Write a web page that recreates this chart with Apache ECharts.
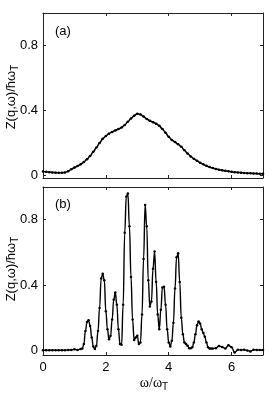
<!DOCTYPE html>
<html><head><meta charset="utf-8">
<script src="https://cdn.jsdelivr.net/npm/echarts@6/dist/echarts.min.js"></script>
<style>html,body{margin:0;padding:0;background:#fff}#c{width:272px;height:397px}</style>
</head><body><div id="c"></div>
<script>
const omegaA = [0.0,0.1,0.2,0.3,0.4,0.5,0.6,0.7,0.8,0.9,1.0,1.1,1.2,1.3,1.4,1.5,1.6,1.7,1.8,1.9,2.0,2.1,2.2,2.3,2.4,2.5,2.6,2.7,2.8,2.9,3.0,3.1,3.2,3.3,3.4,3.5,3.6,3.7,3.8,3.9,4.0,4.1,4.2,4.3,4.4,4.5,4.6,4.7,4.8,4.9,5.0,5.1,5.2,5.3,5.4,5.5,5.6,5.7,5.8,5.9,6.0,6.1,6.2,6.3,6.4,6.5,6.6,6.7,6.8,6.9,7.0];
const zA = [0.024,0.022,0.020,0.018,0.017,0.016,0.016,0.018,0.026,0.038,0.048,0.058,0.068,0.082,0.100,0.120,0.145,0.172,0.200,0.225,0.243,0.257,0.268,0.277,0.285,0.295,0.310,0.330,0.350,0.368,0.380,0.375,0.362,0.348,0.336,0.328,0.318,0.305,0.285,0.262,0.238,0.218,0.205,0.192,0.176,0.155,0.135,0.117,0.102,0.090,0.078,0.068,0.059,0.051,0.045,0.040,0.035,0.031,0.028,0.025,0.022,0.020,0.018,0.017,0.015,0.014,0.013,0.012,0.011,0.010,0.010];
const omegaB = [0.0,0.1,0.2,0.3,0.4,0.5,0.6,0.7,0.8,0.9,1.0,1.1,
 1.20,1.25,1.30,1.35,1.40,1.45,1.50,1.55,1.60,1.65,1.70,1.75,1.80,1.85,1.90,1.95,2.00,2.05,2.10,2.15,2.20,2.25,2.30,2.35,2.40,2.45,2.50,2.55,2.60,2.65,2.70,2.75,2.80,2.85,2.90,2.95,3.00,3.05,3.10,3.15,3.20,3.25,3.30,3.35,3.40,3.45,3.50,3.55,3.60,3.65,3.70,3.75,3.80,3.85,3.90,3.95,4.00,4.05,4.10,4.15,4.20,4.25,4.30,4.35,4.40,4.45,4.50,4.55,4.60,4.65,4.70,4.75,4.80,4.85,4.90,4.95,5.00,5.05,5.10,5.15,5.20,5.25,5.30,5.35,5.40,
 5.5,5.6,5.7,5.8,5.9,6.0,6.1,6.2,6.3,6.4,6.5,6.6,6.7,6.8,6.9,7.0];
const zB = [0.002,0.002,0.002,0.002,0.002,0.002,0.002,0.002,0.003,0.004,0.008,0.003,
 0.010,0.012,0.040,0.120,0.175,0.185,0.150,0.080,0.025,0.010,0.030,0.120,0.260,0.440,0.470,0.430,0.240,0.130,0.070,0.090,0.190,0.310,0.355,0.280,0.130,0.040,0.035,0.280,0.720,0.940,0.960,0.760,0.450,0.190,0.065,0.080,0.090,0.040,0.050,0.220,0.560,0.890,0.760,0.430,0.270,0.300,0.500,0.605,0.420,0.220,0.130,0.250,0.385,0.390,0.280,0.130,0.050,0.025,0.060,0.170,0.380,0.570,0.595,0.420,0.200,0.100,0.050,0.040,0.030,0.015,0.015,0.020,0.050,0.100,0.155,0.178,0.165,0.130,0.108,0.085,0.050,0.020,0.012,0.012,0.012,
 0.015,0.028,0.022,0.012,0.033,0.020,-0.012,0.005,0.003,0.005,0.000,-0.005,0.005,0.004,0.003,0.004];
const xTicks = [0,2,4,6];
const yTicks = [0,0.4,0.8];
const panelLabels = ['(a)','(b)'];
const yTitle = 'Z(q,ω)/ħω{s|T}';
const xTitle = 'ω/ω{s|T}';

const grids = [
  {left:43, right:9, top:13, height:165, containLabel:false, outerBoundsMode:'none'},
  {left:43, right:9, top:187, height:168, containLabel:false, outerBoundsMode:'none'}
];
const yMins = [-0.016, -0.027];
const frame = '#222';
const font = 'Liberation Sans, Arial, sans-serif';
const serif = 'Liberation Serif, Times New Roman, serif';

const xAxis = [], yAxis = [];
for (let g = 0; g < 2; g++) {
  xAxis.push({
    type:'value', gridIndex:g, min:0, max:7, position:'bottom',
    axisLine:{show:true, onZero:false, lineStyle:{color:frame, width:1}},
    axisTick:{show:true, inside:true, length:3, customValues:xTicks, lineStyle:{color:frame}},
    axisLabel:{show:g===1, customValues:xTicks, color:'#000', fontSize:13, fontFamily:font, margin:6},
    splitLine:{show:false}
  });
  xAxis.push({
    type:'value', gridIndex:g, min:0, max:7, position:'top',
    axisLine:{show:true, onZero:false, lineStyle:{color:frame, width:1}},
    axisTick:{show:true, inside:true, length:3, customValues:xTicks, lineStyle:{color:frame}},
    axisLabel:{show:false}, splitLine:{show:false}
  });
  yAxis.push({
    type:'value', gridIndex:g, min:yMins[g], max:1.0, position:'left',
    axisLine:{show:true, onZero:false, lineStyle:{color:frame, width:1}},
    axisTick:{show:true, inside:true, length:3, customValues:yTicks, lineStyle:{color:frame}},
    axisLabel:{show:true, customValues:yTicks, color:'#000', fontSize:13, fontFamily:font, margin:5,
      formatter:v => v===0 ? '0' : String(v)},
    splitLine:{show:false}
  });
  yAxis.push({
    type:'value', gridIndex:g, min:yMins[g], max:1.0, position:'right',
    axisLine:{show:true, onZero:false, lineStyle:{color:frame, width:1}},
    axisTick:{show:true, inside:true, length:3, customValues:yTicks, lineStyle:{color:frame}},
    axisLabel:{show:false}, splitLine:{show:false}
  });
}

const dataA = omegaA.map((x,i)=>[x, zA[i]]);
const dataB = omegaB.map((x,i)=>[x, zB[i]]);

const series = [
  {type:'line', xAxisIndex:0, yAxisIndex:0, data:dataA, smooth:0.4, smoothMonotone:'x',
   symbol:'circle', symbolSize:2.5, itemStyle:{color:'#000'}, lineStyle:{color:'#000', width:1.6}, animation:false},
  {type:'line', xAxisIndex:2, yAxisIndex:2, data:dataB, smooth:0.45, smoothMonotone:'x',
   symbol:'circle', symbolSize:2.5, itemStyle:{color:'#000'}, lineStyle:{color:'#000', width:1.4}, animation:false}
];

const subRich = {s:{fontSize:10, fontFamily:font, fill:'#000', padding:[8,0,0,0]}};
function yLabel(cy){
  return {type:'text', x:11, y:cy, rotation:Math.PI/2,
    style:{text:yTitle, fill:'#000', fontSize:13, fontFamily:font, align:'center', verticalAlign:'middle', rich:subRich}};
}
const chart = echarts.init(document.getElementById('c'), null, {renderer:'canvas'});
chart.setOption({
  animation:false,
  grid:grids,
  xAxis:xAxis, yAxis:yAxis, series:series,
  graphic:[
    {type:'text', left:55, top:25, style:{text:panelLabels[0], fill:'#000', font:'13px '+font}},
    {type:'text', left:55, top:198, style:{text:panelLabels[1], fill:'#000', font:'13px '+font}},
    yLabel(97), yLabel(269),
    {type:'text', x:154, y:383, style:{text:xTitle, fill:'#000', fontSize:14, fontFamily:serif, align:'center', verticalAlign:'middle', rich:subRich}}
  ]
});
</script></body></html>
